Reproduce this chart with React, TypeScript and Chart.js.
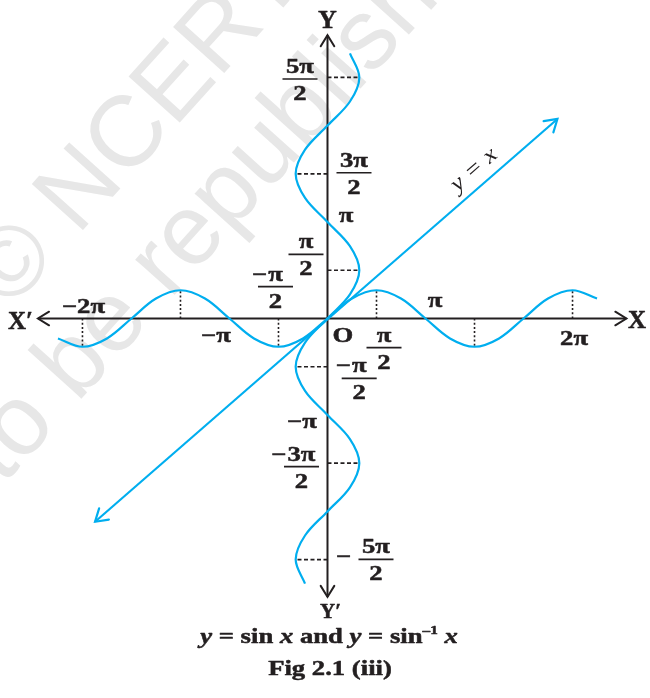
import React, { useEffect, useRef } from "react";
import { Chart, registerables } from "chart.js";

Chart.register(...registerables);

const PI = Math.PI;

// ---------- data ----------
// sample positions along each curve, in steps of π/4
const quarterTurns = [-11, -10, -9, -8, -7, -6, -5, -4, -3, -2, -1, 0, 1, 2, 3, 4, 5, 6, 7, 8, 9, 10, 11];
// y = sin x : height of the curve at each sample
const sineHeights = [-0.65, -0.92, -0.65, 0, 0.65, 0.92, 0.65, 0, -0.65, -0.92, -0.65, 0, 0.65, 0.92, 0.65, 0, -0.65, -0.92, -0.65, 0, 0.65, 0.92, 0.65];
// y = sin^-1 x (drawn as x = sin y) : horizontal offset of the curve at each sample
const inverseOffsets = [-0.72, -1.02, -0.72, 0, 0.72, 1.02, 0.72, 0, -0.72, -1.02, -0.72, 0, 0.72, 1.02, 0.72, 0, -0.72, -1.02, -0.72, 0, 0.72, 1.02, 0.72];

// the line y = x, arrow tip to arrow tip
const diagonalX = [-7.45, 7.37];
const diagonalY = [-6.62, 6.5];

// axes extents, arrow tip to arrow tip
const xAxisEnds = [-9.28, 9.58];
const yAxisEnds = [-9.07, 9.23];

// guide lines, positions in steps of π/2
const xGuideHalfTurns = [-5, -3, -1, 1, 3, 5];
const xGuideHeights = [-0.92, 0.92, -0.92, 0.92, -0.92, 0.92];
const yGuideHalfTurns = [-5, -3, -1, 1, 3, 5];
const yGuideWidths = [-1.02, 1.02, -1.02, 1.02, -1.02, 1.02];

// tick labels
const plainLabels = ["−2π", "−π", "π", "2π", "π", "−π", "O"];
const fractionNumerators = ["π", "π", "π", "π", "3π", "5π", "3π", "5π"];
const fractionPrefixes = ["", "−", "", "−", "", "", "−", "−"];

// ---------- styling / layout ----------
const INK = "#231f20";
const CYAN = "#00aeef";
const SX = 1.27; // horizontal stretch of the book's typeface
const FONT_B = 'bold 21px "Liberation Serif"';
const FONT_BI = 'italic bold 21px "Liberation Serif"';

// anchors (data units) + pixel offsets for plain labels (baseline, centred)
const plainLayout = [
  { x: -2 * PI, y: 0, dx: -48, dy: -6 },
  { x: -PI, y: 0, dx: -13.5, dy: 23 },
  { x: PI, y: 0, dx: 9.5, dy: -12 },
  { x: 2 * PI, y: 0, dx: 50.5, dy: 26.5 },
  { x: 0, y: PI, dx: 18.5, dy: 0 },
  { x: 0, y: -PI, dx: -25.5, dy: 13 },
  { x: 0, y: 0, dx: 15.5, dy: 23 },
];
// anchors + offsets of fraction bars, prefix mode
const fracLayout = [
  { x: PI / 2, y: 0, dx: 7.5, dy: 29.2, mode: "num" },
  { x: -PI / 2, y: 0, dx: -3, dy: -31.8, mode: "num" },
  { x: 0, y: PI / 2, dx: -21.5, dy: -16, mode: "num" },
  { x: 0, y: -PI / 2, dx: 31.7, dy: 11.6, mode: "num" },
  { x: 0, y: (3 * PI) / 2, dx: 26.5, dy: -1.1, mode: "num" },
  { x: 0, y: (5 * PI) / 2, dx: -27.5, dy: 1.6, mode: "num" },
  { x: 0, y: (-3 * PI) / 2, dx: -26, dy: 3.5, mode: "num" },
  { x: 0, y: (-5 * PI) / 2, dx: 48.5, dy: -0.3, mode: "mid" },
];

function txt(ctx: CanvasRenderingContext2D, s: string, x: number, y: number, font: string, align: CanvasTextAlign = "center", sx = SX) {
  ctx.save();
  ctx.font = font;
  ctx.textAlign = align;
  ctx.textBaseline = "alphabetic";
  ctx.fillStyle = INK;
  ctx.strokeStyle = INK;
  ctx.lineWidth = 0.5;
  ctx.lineJoin = "round";
  ctx.translate(x, y);
  ctx.scale(sx, 1);
  ctx.fillText(s, 0, 0);
  ctx.strokeText(s, 0, 0);
  ctx.restore();
}

function arrowHead(ctx: CanvasRenderingContext2D, tx: number, ty: number, ang: number, len: number, half: number, color: string, w: number) {
  ctx.save();
  ctx.strokeStyle = color;
  ctx.lineWidth = w;
  ctx.lineCap = "round";
  ctx.lineJoin = "miter";
  ctx.beginPath();
  ctx.moveTo(tx - len * Math.cos(ang - half), ty - len * Math.sin(ang - half));
  ctx.lineTo(tx, ty);
  ctx.lineTo(tx - len * Math.cos(ang + half), ty - len * Math.sin(ang + half));
  ctx.stroke();
  ctx.restore();
}

function fraction(ctx: CanvasRenderingContext2D, cx: number, by: number, num: string, pre: string, mode: string) {
  txt(ctx, num, cx, by - 6, FONT_B);
  txt(ctx, "2", cx, by + 21, FONT_B);
  ctx.save();
  ctx.strokeStyle = INK;
  ctx.lineWidth = 1.7;
  ctx.beginPath();
  ctx.moveTo(cx - 17.5, by);
  ctx.lineTo(cx + 17.5, by);
  ctx.stroke();
  ctx.restore();
  if (pre) {
    ctx.save();
    ctx.font = FONT_B;
    const w = ctx.measureText(num).width * SX;
    ctx.restore();
    if (mode === "num") txt(ctx, pre, cx - w / 2 - 1, by - 6, FONT_B, "right");
    else txt(ctx, pre, cx - 32.5, by + 4, FONT_B, "center");
  }
}

function watermark(ctx: CanvasRenderingContext2D) {
  ctx.save();
  ctx.fillStyle = "#e7e7e7";
  ctx.font = '100px "Liberation Sans"';
  ctx.textBaseline = "alphabetic";
  const a = (-48 * PI) / 180;
  ctx.save();
  ctx.translate(9.7, 311.3);
  ctx.rotate(a);
  ctx.fillText("© NCERT", 0, 0);
  ctx.restore();
  ctx.save();
  ctx.translate(-109, 610);
  ctx.rotate(a);
  ctx.fillText("not to be republished", 0, 0);
  ctx.restore();
  ctx.restore();
}

const decor = {
  id: "decor",
  beforeDatasetsDraw(chart: any) {
    watermark(chart.ctx);
  },
  afterDatasetsDraw(chart: any) {
    const ctx: CanvasRenderingContext2D = chart.ctx;
    const xs = chart.scales.x;
    const ys = chart.scales.y;
    const px = (v: number) => xs.getPixelForValue(v);
    const py = (v: number) => ys.getPixelForValue(v);

    // axis arrows
    arrowHead(ctx, px(xAxisEnds[0]), py(0), PI, 13, 0.55, INK, 2);
    arrowHead(ctx, px(xAxisEnds[1]), py(0), 0, 13, 0.55, INK, 2);
    arrowHead(ctx, px(0), py(yAxisEnds[1]), -PI / 2, 13, 0.55, INK, 2);
    arrowHead(ctx, px(0), py(yAxisEnds[0]), PI / 2, 13, 0.55, INK, 2);

    // diagonal arrows
    const ax = px(diagonalX[0]), ay = py(diagonalY[0]);
    const bx = px(diagonalX[1]), by = py(diagonalY[1]);
    arrowHead(ctx, bx, by, Math.atan2(by - ay, bx - ax), 14, 0.56, CYAN, 2.2);
    arrowHead(ctx, ax, ay, Math.atan2(ay - by, ax - bx), 14, 0.56, CYAN, 2.2);

    // y = x label
    ctx.save();
    ctx.translate(px(4.7), py(4.84));
    ctx.rotate(Math.atan2(by - ay, bx - ax));
    ctx.scale(1.15, 1);
    ctx.fillStyle = INK;
    ctx.textAlign = "center";
    ctx.textBaseline = "middle";
    ctx.font = 'italic 23px "Liberation Serif"';
    ctx.fillText("y = x", 0, 0);
    ctx.restore();

    // axis names
    txt(ctx, "Y", px(0), 28, 'bold 26px "Liberation Serif"', "center", 1.0);
    txt(ctx, "X′", 8, 329, 'bold 25px "Liberation Serif"', "left", 1.0);
    txt(ctx, "X", 628, 328, 'bold 25px "Liberation Serif"', "left", 1.0);
    txt(ctx, "Y′", px(0) + 3, 618, 'bold 21px "Liberation Serif"', "center", 1.0);

    // tick labels
    plainLabels.forEach((s, i) => {
      const L = plainLayout[i];
      txt(ctx, s, px(L.x) + L.dx, py(L.y) + L.dy, FONT_B);
    });
    fractionNumerators.forEach((n, i) => {
      const L = fracLayout[i];
      fraction(ctx, px(L.x) + L.dx, py(L.y) + L.dy, n, fractionPrefixes[i], L.mode);
    });

    // caption
    const segs = [
      { s: "y", f: FONT_BI, dy: 0 },
      { s: " = sin ", f: FONT_B, dy: 0 },
      { s: "x", f: FONT_BI, dy: 0 },
      { s: " and ", f: FONT_B, dy: 0 },
      { s: "y", f: FONT_BI, dy: 0 },
      { s: " = sin", f: FONT_B, dy: 0 },
      { s: "–1", f: 'bold 12px "Liberation Serif"', dy: -9 },
      { s: " ", f: FONT_B, dy: 0 },
      { s: "x", f: FONT_BI, dy: 0 },
    ];
    ctx.save();
    let total = 0;
    const widths = segs.map((g) => {
      ctx.font = g.f;
      const w = ctx.measureText(g.s).width;
      total += w;
      return w;
    });
    ctx.restore();
    let cx = 329 - (total * SX) / 2;
    segs.forEach((g, i) => {
      txt(ctx, g.s, cx, 642.7 + g.dy, g.f, "left");
      cx += widths[i] * SX;
    });
    txt(ctx, "Fig 2.1 (iii)", 330, 675, FONT_B);
  },
};

export default function App() {
  const ref = useRef<HTMLCanvasElement>(null);
  useEffect(() => {
    document.body.style.margin = "0";
    const canvas = ref.current!;

    const sinePts = quarterTurns.map((k, i) => ({ x: (k * PI) / 4, y: sineHeights[i] }));
    const invPts = quarterTurns.map((k, i) => ({ x: inverseOffsets[i], y: (k * PI) / 4 }));
    const diagPts = diagonalX.map((x, i) => ({ x, y: diagonalY[i] }));

    const guideBase = { borderColor: INK, borderWidth: 1.6, pointRadius: 0, tension: 0, fill: false };
    const xGuides = xGuideHalfTurns.map((k, i) => ({
      ...guideBase,
      borderDash: [2, 2.2],
      order: 3,
      data: [{ x: (k * PI) / 2, y: 0 }, { x: (k * PI) / 2, y: xGuideHeights[i] }],
    }));
    const yGuides = yGuideHalfTurns.map((k, i) => ({
      ...guideBase,
      borderDash: [4, 2.5],
      order: 3,
      data: [{ x: 0, y: (k * PI) / 2 }, { x: yGuideWidths[i], y: (k * PI) / 2 }],
    }));

    const curveBase = { borderColor: CYAN, borderWidth: 2.2, pointRadius: 0, fill: false, order: 1 };

    const chart = new Chart(canvas, {
      type: "line",
      data: {
        datasets: [
          { ...curveBase, label: "y = sin x", data: sinePts, tension: 0.35 },
          { ...curveBase, label: "y = sin⁻¹ x", data: invPts, tension: 0.35 },
          { ...curveBase, label: "y = x", data: diagPts, tension: 0 },
          { label: "X axis", borderColor: INK, borderWidth: 2, pointRadius: 0, order: 2, tension: 0,
            data: [{ x: xAxisEnds[0], y: 0 }, { x: xAxisEnds[1], y: 0 }] },
          { label: "Y axis", borderColor: INK, borderWidth: 2, pointRadius: 0, order: 2, tension: 0,
            data: [{ x: 0, y: yAxisEnds[0] }, { x: 0, y: yAxisEnds[1] }] },
          ...xGuides,
          ...yGuides,
        ] as any,
      },
      options: {
        responsive: false,
        maintainAspectRatio: false,
        animation: false,
        layout: { padding: 0 },
        plugins: { legend: { display: false }, tooltip: { enabled: false }, title: { display: false } },
        scales: {
          x: { type: "linear", min: -10.497, max: 10.337, display: false },
          y: { type: "linear", min: -12.362, max: 10.375, display: false },
        },
      },
      plugins: [decor],
    } as any);
    return () => chart.destroy();
  }, []);
  return <canvas ref={ref} width={650} height={698} style={{ display: "block", width: 650, height: 698 }} />;
}
